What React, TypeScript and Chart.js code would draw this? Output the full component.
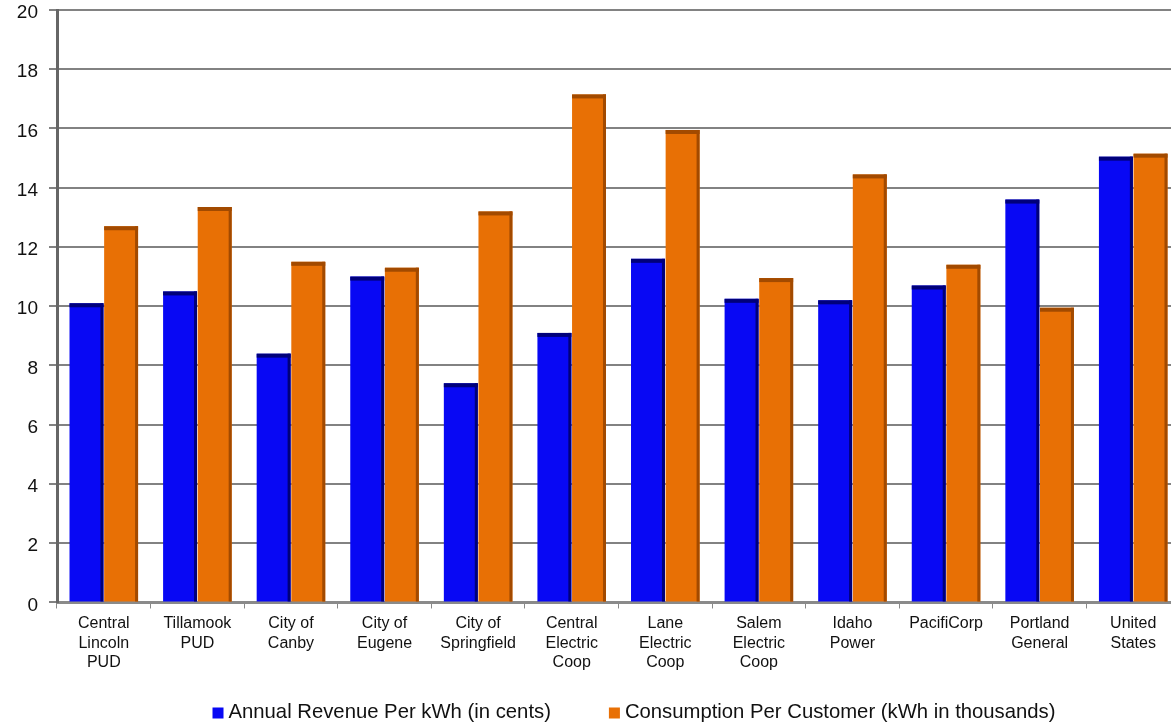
import React, { useEffect, useRef } from "react";
import { Chart, registerables } from "chart.js";

Chart.register(...registerables);

const categories: string[][] = [
  ["Central", "Lincoln", "PUD"],
  ["Tillamook", "PUD"],
  ["City of", "Canby"],
  ["City of", "Eugene"],
  ["City of", "Springfield"],
  ["Central", "Electric", "Coop"],
  ["Lane", "Electric", "Coop"],
  ["Salem", "Electric", "Coop"],
  ["Idaho", "Power"],
  ["PacifiCorp"],
  ["Portland", "General"],
  ["United", "States"],
];

const revenuePerKwh = [10.1, 10.5, 8.4, 11.0, 7.4, 9.1, 11.6, 10.25, 10.2, 10.7, 13.6, 15.05];
const consumptionPerCustomer = [12.7, 13.35, 11.5, 11.3, 13.2, 17.15, 15.95, 10.95, 14.45, 11.4, 9.95, 15.15];

const yTicks = [0, 2, 4, 6, 8, 10, 12, 14, 16, 18, 20];

const FONT = "'Liberation Sans', Arial, sans-serif";
const COLORS = ["#0808f4", "#e87005"];
const DARKS = ["#00007a", "#a24a00"];

const bar3d = {
  id: "bar3d",
  afterDatasetsDraw(chart: any) {
    const ctx = chart.ctx;
    chart.data.datasets.forEach((_: any, di: number) => {
      const meta = chart.getDatasetMeta(di);
      meta.data.forEach((el: any) => {
        const w = el.width;
        const left = el.x - w / 2;
        const top = el.y;
        const h = el.base - el.y;
        ctx.save();
        ctx.fillStyle = DARKS[di];
        ctx.fillRect(left, top, w, 4);
        ctx.fillRect(left + w - 3, top, 3, h);
        ctx.restore();
      });
    });
  },
};

const bottomLegend = {
  id: "bottomLegend",
  afterDraw(chart: any) {
    const ctx = chart.ctx;
    const fontSize = 20.3;
    const box = 11;
    const boxGap = 5;
    const itemGap = 58;
    const yc = 712;
    const center = 634;
    ctx.save();
    ctx.font = `${fontSize}px ${FONT}`;
    ctx.textBaseline = "middle";
    ctx.textAlign = "left";
    const items = chart.data.datasets.map((d: any, i: number) => ({
      text: d.label as string,
      color: COLORS[i],
      w: box + boxGap + ctx.measureText(d.label).width,
    }));
    const total = items.reduce((a: number, it: any) => a + it.w, 0) + itemGap * (items.length - 1);
    let x = center - total / 2;
    items.forEach((it: any) => {
      ctx.fillStyle = it.color;
      ctx.fillRect(x, yc - box / 2 + 1, box, box);
      ctx.fillStyle = "#111";
      ctx.fillText(it.text, x + box + boxGap, yc);
      x += it.w + itemGap;
    });
    ctx.restore();
  },
};

export default function App() {
  const ref = useRef<HTMLCanvasElement | null>(null);
  useEffect(() => {
    if (!ref.current) return;
    const chart = new Chart(ref.current, {
      type: "bar",
      data: {
        labels: categories,
        datasets: [
          {
            label: "Annual Revenue Per kWh (in cents)",
            data: revenuePerKwh,
            backgroundColor: COLORS[0],
            borderWidth: 0,
          },
          {
            label: "Consumption Per Customer (kWh in thousands)",
            data: consumptionPerCustomer,
            backgroundColor: COLORS[1],
            borderWidth: 0,
          },
        ],
      },
      options: {
        animation: false,
        responsive: false,
        maintainAspectRatio: false,
        layout: { padding: { top: 10, right: 0, left: 0, bottom: 47 } },
        datasets: {
          bar: { categoryPercentage: 0.74, barPercentage: 0.98 },
        },
        plugins: {
          legend: { display: false },
          tooltip: { enabled: false },
        },
        scales: {
          x: {
            grid: {
              drawOnChartArea: false,
              drawTicks: true,
              tickLength: 6,
              color: "#888",
              lineWidth: 1,
            },
            border: { color: "#8a8a8a", width: 3 },
            ticks: {
              font: { family: FONT, size: 16, lineHeight: 1.24 },
              color: "#111",
              maxRotation: 0,
              autoSkip: false,
              padding: 5,
            },
          },
          y: {
            min: 0,
            max: 20,
            afterBuildTicks: (s: any) => {
              s.ticks = yTicks.map((v) => ({ value: v }));
            },
            afterFit: (s: any) => {
              s.width = 57;
              s.paddingTop = 0;
              s.paddingBottom = 0;
            },
            grid: {
              color: "#828282",
              lineWidth: 2,
              tickLength: 8,
            },
            border: { color: "#666", width: 3 },
            ticks: {
              font: { family: FONT, size: 19 },
              color: "#111",
              padding: 11,
              labelOffset: 3,
            },
          },
        },
      },
      plugins: [bar3d, bottomLegend],
    });
    return () => chart.destroy();
  }, []);
  return (
    <div style={{ position: "fixed", left: 0, top: 0, width: 1171, height: 725, background: "#fff", overflow: "hidden" }}>
      <canvas ref={ref} width={1180} height={725} style={{ width: 1180, height: 725 }} />
    </div>
  );
}
